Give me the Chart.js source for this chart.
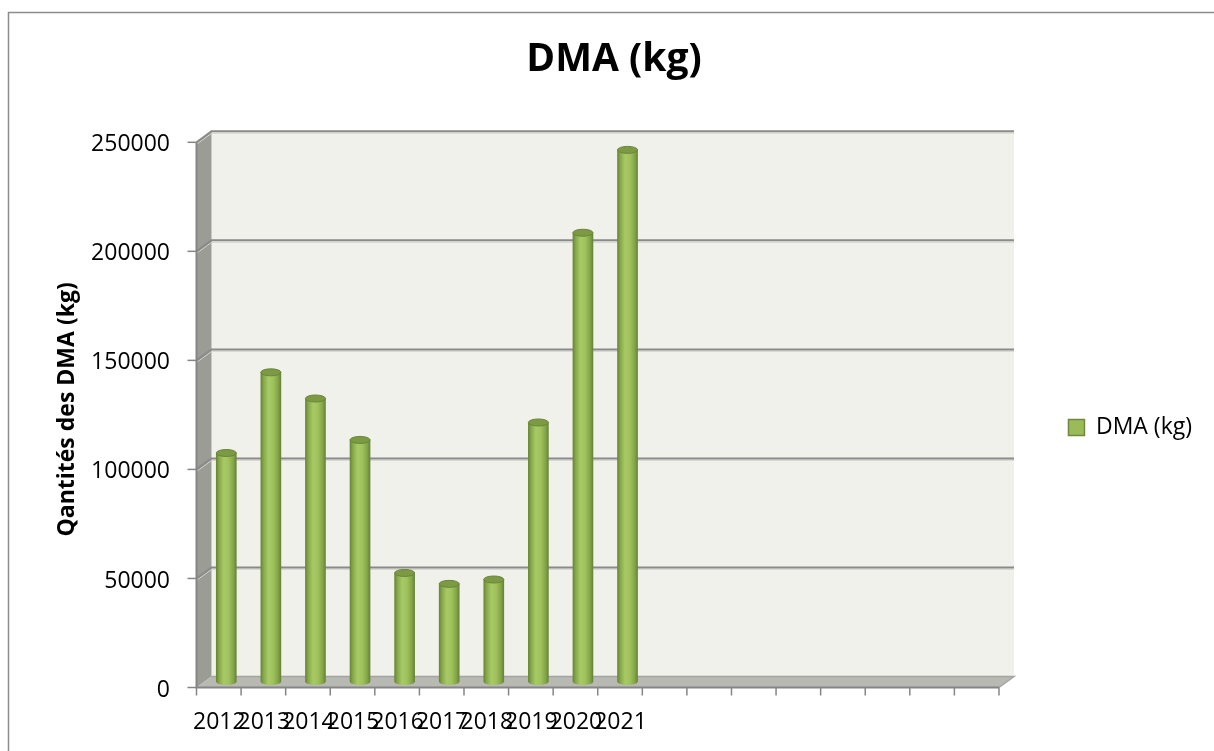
<!DOCTYPE html>
<html><head><meta charset="utf-8">
<script src="https://cdn.jsdelivr.net/npm/chart.js@4.4.1/dist/chart.umd.min.js"></script>
<style>html,body{margin:0;padding:0;background:#fff;}#wrap{width:1214px;height:751px;}</style>
</head><body><div id="wrap"><canvas id="c" width="1214" height="751"></canvas></div>
<script>
const years = ['2012','2013','2014','2015','2016','2017','2018','2019','2020','2021'];
const emptySlots = ['','','','','','','',''];
const dmaKg = [105000,142000,130000,111000,50000,45000,47000,119000,206000,244000];
const yTickValues = [0,50000,100000,150000,200000,250000];
const seriesName = 'DMA (kg)';
const chartTitle = 'DMA (kg)';
const yAxisTitle = 'Qantités des DMA (kg)';

const DX = 7.5, DY = 5.5;
const LEGEND_PAD = 74;
const FONT = '"Open Sans", "Noto Sans", sans-serif';
Chart.defaults.font.family = FONT;
Chart.defaults.color = '#000';

function barGradient(ctx, cx, w) {
  const g = ctx.createLinearGradient(cx - w/2, 0, cx + w/2, 0);
  g.addColorStop(0, '#6A8636');
  g.addColorStop(0.14, '#86A84A');
  g.addColorStop(0.38, '#A8CA66');
  g.addColorStop(0.62, '#9FC25C');
  g.addColorStop(0.86, '#84A447');
  g.addColorStop(1, '#67833A');
  return g;
}

const frame3d = {
  id: 'frame3d',
  beforeDraw(chart) {
    const ctx = chart.ctx;
    ctx.save();
    ctx.fillStyle = '#fff';
    ctx.fillRect(0, 0, chart.width, chart.height);
    ctx.strokeStyle = '#8C8C8C';
    ctx.lineWidth = 1.5;
    ctx.strokeRect(8.5, 12.5, chart.width + 10, chart.height + 10);
    ctx.restore();
  },
  beforeDatasetsDraw(chart) {
    const {ctx, chartArea: {left, right}, scales: {x, y}} = chart;
    const y0 = y.getPixelForValue(yTickValues[0]);
    const yT = y.getPixelForValue(yTickValues[yTickValues.length - 1]);
    const bx0 = left + DX, bx1 = right + DX, by0 = yT - DY, by1 = y0 - DY;
    const fx0 = left - DX, fx1 = right - DX, fy0 = yT + DY, fy1 = y0 + DY;
    ctx.save();
    ctx.fillStyle = '#EFF1EA';
    ctx.fillRect(bx0, by0, bx1 - bx0, by1 - by0);
    ctx.fillStyle = '#9A9C95';
    ctx.beginPath();
    ctx.moveTo(fx0, fy0); ctx.lineTo(bx0, by0); ctx.lineTo(bx0, by1); ctx.lineTo(fx0, fy1); ctx.closePath();
    ctx.fill();
    ctx.fillStyle = '#B7B9B2';
    ctx.beginPath();
    ctx.moveTo(fx0, fy1); ctx.lineTo(bx0, by1); ctx.lineTo(bx1, by1); ctx.lineTo(fx1, fy1); ctx.closePath();
    ctx.fill();
    ctx.strokeStyle = '#A3A5A0';
    ctx.lineWidth = 1.5;
    ctx.beginPath();
    ctx.moveTo(bx0, by1); ctx.lineTo(bx1, by1); ctx.lineTo(fx1, fy1);
    ctx.stroke();
    yTickValues.forEach(v => {
      if (v === 0) return;
      const p = y.getPixelForValue(v);
      const fy = p + DY, by = p - DY;
      ctx.strokeStyle = '#D4D6D0';
      ctx.lineWidth = 1;
      ctx.beginPath();
      ctx.moveTo(fx0, fy + 2); ctx.lineTo(bx0, by + 2); ctx.lineTo(bx1, by + 2);
      ctx.stroke();
      ctx.strokeStyle = '#8A8A8A';
      ctx.lineWidth = 2;
      ctx.beginPath();
      ctx.moveTo(fx0, fy); ctx.lineTo(bx0, by); ctx.lineTo(bx1, by);
      ctx.stroke();
    });
    ctx.strokeStyle = '#858585';
    ctx.lineWidth = 2;
    ctx.beginPath();
    ctx.moveTo(fx0, fy0); ctx.lineTo(fx0, fy1); ctx.lineTo(fx1, fy1);
    ctx.stroke();
    ctx.lineWidth = 1.5;
    yTickValues.forEach(v => {
      const fy = y.getPixelForValue(v) + DY;
      ctx.beginPath(); ctx.moveTo(fx0 - 9, fy); ctx.lineTo(fx0, fy); ctx.stroke();
    });
    const n = x.getLabels().length;
    const half = (x.getPixelForValue(1) - x.getPixelForValue(0)) / 2;
    for (let i = 0; i <= n; i++) {
      const xb = x.getPixelForValue(Math.min(i, n - 1)) + (i === n ? half : -half) - DX;
      ctx.beginPath(); ctx.moveTo(xb, fy1); ctx.lineTo(xb, fy1 + 8); ctx.stroke();
    }
    ctx.restore();
  },
  afterDatasetsDraw(chart) {
    const ctx = chart.ctx;
    const meta = chart.getDatasetMeta(0);
    ctx.save();
    meta.data.forEach(bar => {
      const {x, y, base, width} = bar.getProps(['x', 'y', 'base', 'width'], true);
      const rx = width / 2;
      ctx.beginPath();
      ctx.ellipse(x, base, rx, 3, 0, 0, Math.PI);
      ctx.fillStyle = barGradient(ctx, x, width);
      ctx.fill();
      ctx.beginPath();
      ctx.ellipse(x, y, rx, 3.5, 0, 0, Math.PI * 2);
      ctx.fillStyle = '#7B9A43';
      ctx.fill();
      ctx.strokeStyle = '#6A8636';
      ctx.lineWidth = 1;
      ctx.stroke();
    });
    ctx.restore();
  },
  afterLayout(chart) {
    const lg = chart.legend;
    if (!lg) return;
    const dx = (chart.chartArea.right + 62 - LEGEND_PAD) - lg.left;
    const dy = 52;
    lg.left += dx; lg.right += dx; lg.top += dy; lg.bottom += dy;
  }
};

new Chart(document.getElementById('c'), {
  type: 'bar',
  data: {
    labels: years.concat(emptySlots),
    datasets: [{
      label: seriesName,
      data: dmaKg,
      barThickness: 20,
      borderWidth: 0,
      backgroundColor: (c) => {
        const xs = c.chart.scales && c.chart.scales.x;
        if (!xs || c.dataIndex === undefined) return '#9BBB59';
        return barGradient(c.chart.ctx, xs.getPixelForValue(c.dataIndex), 20);
      }
    }]
  },
  options: {
    responsive: false,
    animation: false,
    devicePixelRatio: 1,
    layout: { padding: { left: 14, right: 0, top: 0, bottom: 0 } },
    plugins: {
      title: {
        display: true, text: chartTitle, color: '#000',
        font: { family: FONT, size: 39, weight: 'bold' },
        padding: { top: 36, bottom: 54 }
      },
      legend: {
        position: 'right',
        labels: {
          font: { family: FONT, size: 23 }, color: '#000',
          boxWidth: 16, boxHeight: 16, padding: LEGEND_PAD,
          generateLabels: () => [{ text: seriesName, fillStyle: '#9BBB59', strokeStyle: '#71893F', lineWidth: 1.5, datasetIndex: 0, hidden: false }]
        }
      },
      tooltip: { enabled: false }
    },
    scales: {
      x: {
        grid: { display: false, drawTicks: false },
        border: { display: false },
        ticks: { font: { family: FONT, size: 23 }, color: '#000', padding: 27, labelOffset: -7, autoSkip: false, maxRotation: 0, minRotation: 0 },
        afterFit: (s) => { s.height = 69; }
      },
      y: {
        min: 0, max: 250000,
        grid: { display: false, drawTicks: false },
        border: { display: false },
        afterBuildTicks: (s) => { s.ticks = yTickValues.map(v => ({ value: v })); },
        ticks: { font: { family: FONT, size: 23 }, color: '#000', padding: 34, labelOffset: 8, callback: (v) => String(v) },
        title: { display: true, text: yAxisTitle, color: '#000', font: { family: FONT, size: 23, weight: 'bold' }, padding: { top: 40, bottom: 0 } },
        afterFit: (s) => { s.width = 190; }
      }
    }
  },
  plugins: [frame3d]
});
</script></body></html>
